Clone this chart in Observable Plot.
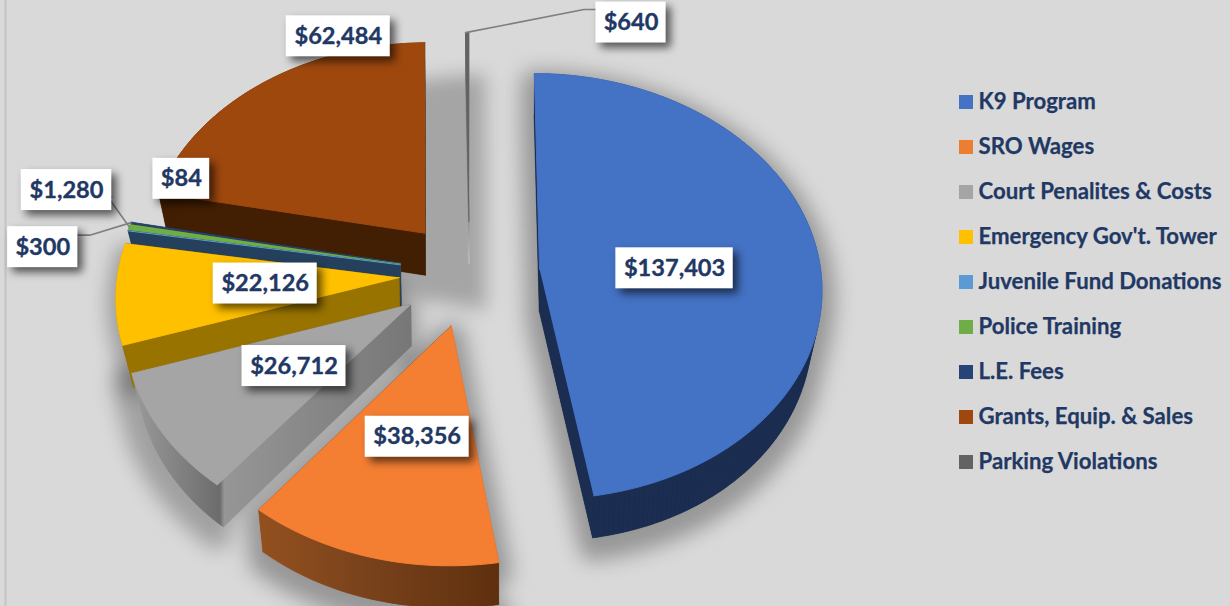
<!DOCTYPE html>
<html><head><meta charset="utf-8">
<script src="https://cdn.jsdelivr.net/npm/d3@7"></script>
<script src="https://cdn.jsdelivr.net/npm/@observablehq/plot@0.6"></script>
<style>
html,body{margin:0;padding:0;background:#d9d9d9;overflow:hidden}
svg{display:block}
</style></head><body><div id="chart"></div>
<script>
const categories = ["K9 Program","SRO Wages","Court Penalites & Costs","Emergency Gov't. Tower","Juvenile Fund Donations","Police Training","L.E. Fees","Grants, Equip. & Sales","Parking Violations"];
const amounts = [137403,38356,26712,22126,84,1280,300,62484,640];
const topColors = ["#4472c4","#f47f33","#a5a5a5","#ffc000","#5b9bd5","#70ad47","#264478","#9e480e","#636363"];
const legendColors = ["#4472c4","#ed7d31","#a5a5a5","#ffc000","#5b9bd5","#70ad47","#264478","#9e480e","#636363"];
const wallColors = ["#1b2d50","url(#wallOrange)","url(#wallGray)","#997300","#24405c","#3f6628","#1b2d50","#421f03","url(#wallParking)"];
const drawOrder = [8,7,6,5,4,3,2,1,0];

// projection of the tilted, exploded pie
const W=1230,H=606,cx=469,cy=273,R=281.5,Ry=212,k=0.08,explode=0.25,depth=42,vanishX=480,converge=8.7e-5;
const rad=d=>d*Math.PI/180;
const project=(X,Y)=>{const s=1/(1+k*Y);return [cx+R*X*s,cy-Ry*Y*s];};
const lower=p=>{const d=p[0]-vanishX;return [p[0]-Math.sign(d)*d*d*converge,p[1]+depth];};
const total=d3.sum(amounts);
let acc=0;
const slices=amounts.map((v,i)=>{
  const a0=acc/total*360; acc+=v; const a1=acc/total*360, mid=(a0+a1)/2;
  const ox=explode*Math.sin(rad(mid)), oy=explode*Math.cos(rad(mid));
  const apex=project(ox,oy);
  const n=Math.max(2,Math.ceil(a1-a0)+1);
  const arc=d3.range(n).map(j=>{const t=rad(a0+(a1-a0)*j/(n-1));return project(ox+Math.sin(t),oy+Math.cos(t));});
  return {i,name:categories[i],value:v,a0,a1,apex,arc,poly:[apex,...arc],mid:project(ox+Math.sin(rad(mid)),oy+Math.cos(rad(mid)))};
});
const rows=(poly,id)=>poly.map(p=>({x:p[0],y:p[1],id}));
const faceRows=s=>rows(s.poly,"top");
const wallRows=s=>{
  const out=rows(s.poly.map(lower),"bottom");
  s.poly.forEach((p,j)=>{const q=s.poly[(j+1)%s.poly.length];
    out.push(...rows([p,q,lower(q),lower(p)],"w"+j));});
  return out;
};
const hullRows=(s,dx,dy)=>{
  const pts=[...s.poly,...s.poly.map(lower)].map(p=>[p[0]+dx,p[1]+dy]);
  return rows(d3.polygonHull(pts),"h");
};

// label layout: offset of each label's centre from its slice's apex
const labelShift=[[135,-1],[-34,111],[-117,62],[-134,6],[-219,-86],[-334,-74],[-358,-16],[-87,-197],[162,-199]];
const fmt=d3.format("$,");
const labels=slices.map((s,i)=>{
  const c=[s.apex[0]+labelShift[i][0],s.apex[1]+labelShift[i][1]];
  const digits=String(s.value).length, w=30+13.4*digits+(digits>3?7:0);
  return {x:c[0],y:c[1],x1:c[0]-w/2,x2:c[0]+w/2,y1:c[1]-20.5,y2:c[1]+20.5,text:fmt(s.value)};
});
const lb=i=>labels[i];
const leaders=[
  ...rows([slices[5].mid,[lb(5).x2-4,lb(5).y+7],[lb(5).x2,lb(5).y+7]],"police"),
  ...rows([slices[6].mid,[lb(6).x2+12,lb(6).y-12],[lb(6).x2,lb(6).y-12]],"le"),
  ...rows([slices[8].arc[0],[lb(8).x1-12,lb(8).y-13],[lb(8).x1,lb(8).y-13]],"parking")
];
const shadows={0:[0,10,"blur(10px)",26,0.3],1:[0,10,"blur(10px)",26,0.3],2:[-6,8,"blur(10px)",28,0.26],3:[-4,6,"blur(9px)",10,0.26],7:[58,34,"blur(9px)",4,0.24]};

const marks=[], effects=new Map();
marks.push(Plot.ruleX([5],{stroke:"#c4c4c4",strokeWidth:2}));
for(const key of Object.keys(shadows)){
  const [dx,dy,blur,sw,op]=shadows[key];
  effects.set(marks.length,blur);
  marks.push(Plot.line(hullRows(slices[key],dx,dy),{x:"x",y:"y",z:"id",fill:"#000",stroke:"#000",strokeWidth:sw,opacity:op}));
}
for(const i of drawOrder){
  const s=slices[i];
  marks.push(Plot.line(wallRows(s),{x:"x",y:"y",z:"id",fill:wallColors[i],stroke:wallColors[i],strokeWidth:0.3}));
  marks.push(Plot.line(faceRows(s),{x:"x",y:"y",z:"id",fill:topColors[i],stroke:topColors[i],strokeWidth:1}));
}
marks.push(Plot.line(leaders,{x:"x",y:"y",z:"id",stroke:"#7f7f7f",strokeWidth:1.6}));
effects.set(marks.length,"drop-shadow(5px 5px 4px rgba(0,0,0,.62))");
marks.push(Plot.rect(labels,{x1:"x1",x2:"x2",y1:"y1",y2:"y2",fill:"#fff"}));
marks.push(Plot.text(labels,{x:"x",y:"y",text:"text",fill:"#1f3864",stroke:"#1f3864",strokeWidth:0.35,fontSize:23.6,fontWeight:700,fontFamily:"Lato"}));
// legend
const legend=categories.map((name,i)=>({name,color:legendColors[i],y:102+45*i}));
marks.push(Plot.rect(legend,{x1:()=>959,x2:()=>973,y1:d=>d.y-7,y2:d=>d.y+7,fill:d=>d.color}));
marks.push(Plot.text(legend,{x:()=>978,y:d=>d.y-1,text:"name",textAnchor:"start",fill:"#1f3864",stroke:"#1f3864",strokeWidth:0.25,fontSize:22.2,fontWeight:700,fontFamily:"Lato"}));

const plot=Plot.plot({width:W,height:H,margin:0,
  x:{domain:[0,W],range:[0,W],axis:null},y:{domain:[0,H],range:[0,H],axis:null},
  color:{type:"identity"},
  style:{background:"#d9d9d9"},marks});
const layers=plot.querySelectorAll(":scope > g");
effects.forEach((f,idx)=>{if(layers[idx])layers[idx].style.filter=f;});
const defs=d3.select(plot).insert("defs",":first-child");
const grad=(id,x1,y1,x2,y2,stops)=>{const g=defs.append("linearGradient").attr("id",id).attr("gradientUnits","userSpaceOnUse")
  .attr("x1",x1).attr("y1",y1).attr("x2",x2).attr("y2",y2);
  stops.forEach(([o,c])=>g.append("stop").attr("offset",o).attr("stop-color",c));};
grad("wallOrange",260,0,498,0,[[0,"#93501f"],[0.5,"#76401a"],[1,"#5f300e"]]);
grad("wallGray",133,0,412,0,[[0,"#9a9a9a"],[0.31,"#6c6c6c"],[0.325,"#969696"],[1,"#777777"]]);
grad("wallParking",0,34,0,265,[[0,"#6a6a6a"],[0.8,"#8a8a8a"],[1,"#cfcfcf"]]);
document.getElementById("chart").appendChild(plot);
</script></body></html>
